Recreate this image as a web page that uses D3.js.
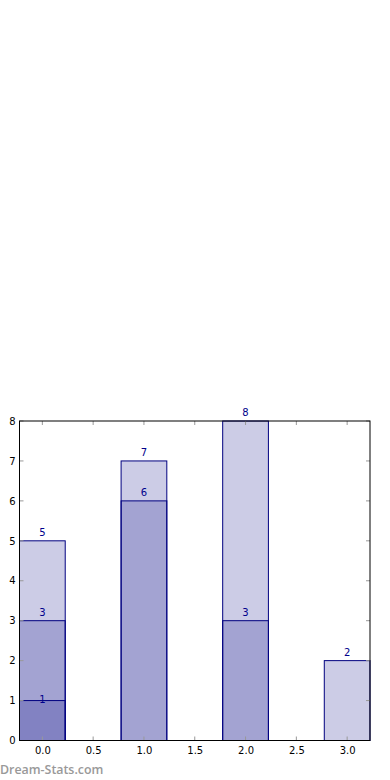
<!DOCTYPE html>
<html>
<head>
<meta charset="utf-8">
<script src="https://cdn.jsdelivr.net/npm/d3@7"></script>
<style>
  body { margin: 0; background: #fff; }
  svg { display: block; font-family: "DejaVu Sans", sans-serif; }
</style>
</head>
<body>
<div id="chart"></div>
<script>
// data: bars at each x position, drawn on top of each other (not stacked)
var positions = [0, 1, 2, 3];
var series1 = [5, 7, 8, 2];
var series2 = [3, 6, 3, 0];
var series3 = [1, 0, 0, 0];
var xTicks = [0.0, 0.5, 1.0, 1.5, 2.0, 2.5, 3.0];
var yTicks = [0, 1, 2, 3, 4, 5, 6, 7, 8];

var W = 390, H = 780;
var margin = {top: 421, right: 20, bottom: 40, left: 19.5},
    width = 370 - margin.left,
    height = 740.5 - margin.top;

var svg = d3.select("#chart").append("svg")
    .attr("width", W)
    .attr("height", H);

var g = svg.append("g")
    .attr("transform", "translate(" + margin.left + "," + margin.top + ")");

var barW = 0.45;
var x = d3.scaleLinear().domain([-0.225, 3.225]).range([0, width]);
var y = d3.scaleLinear().domain([0, 8]).range([height, 0]);

// bars, one layer per series
var layers = [series1, series2, series3];
layers.forEach(function(s) {
  var d = positions.map(function(p, i) { return {p: p, v: s[i]}; })
                   .filter(function(d) { return d.v > 0; });
  g.selectAll(null)
    .data(d)
    .enter().append("rect")
      .attr("x", function(d) { return x(d.p - barW / 2); })
      .attr("width", function(d) { return x(d.p + barW / 2) - x(d.p - barW / 2); })
      .attr("y", function(d) { return y(d.v); })
      .attr("height", function(d) { return height - y(d.v); })
      .style("fill", "navy")
      .style("fill-opacity", 0.2)
      .style("stroke", "navy")
      .style("stroke-width", 1);
});

// value labels
layers.forEach(function(s) {
  var d = positions.map(function(p, i) { return {p: p, v: s[i]}; })
                   .filter(function(d) { return d.v > 0; });
  g.selectAll(null)
    .data(d)
    .enter().append("text")
      .attr("x", function(d) { return x(d.p); })
      .attr("y", function(d) { return d.v > 1 ? y(d.v) - 5 : y(d.v) + 2; })
      .attr("text-anchor", "middle")
      .style("font-size", "10px")
      .style("fill", "#00008b")
      .text(function(d) { return d.v; });
});

// axes
var xAxis = g.append("g")
  .attr("transform", "translate(0," + height + ")")
  .call(d3.axisBottom(x).tickValues(xTicks).tickFormat(d3.format(".1f")).tickSize(0).tickPadding(6));
var yAxis = g.append("g")
  .call(d3.axisLeft(y).tickValues(yTicks).tickSize(0).tickPadding(4));
[xAxis, yAxis].forEach(function(a) {
  a.select(".domain").remove();
  a.selectAll("text").style("font-size", "10px").style("fill", "#000")
    .style("font-family", "DejaVu Sans, sans-serif");
});

// inward tick marks on all four sides
var tk = 4;
xTicks.forEach(function(t) {
  g.append("line").attr("x1", x(t)).attr("x2", x(t)).attr("y1", height).attr("y2", height - tk)
    .style("stroke", "#999");
  g.append("line").attr("x1", x(t)).attr("x2", x(t)).attr("y1", 0).attr("y2", tk)
    .style("stroke", "#999");
});
yTicks.forEach(function(t) {
  g.append("line").attr("x1", 0).attr("x2", tk).attr("y1", y(t)).attr("y2", y(t))
    .style("stroke", "#999");
  g.append("line").attr("x1", width).attr("x2", width - tk).attr("y1", y(t)).attr("y2", y(t))
    .style("stroke", "#999");
});

// frame
g.append("rect")
  .attr("x", 0).attr("y", 0)
  .attr("width", width).attr("height", height)
  .style("fill", "none")
  .style("stroke", "#000")
  .style("stroke-width", 1);

// watermark
svg.append("text")
  .attr("x", 0)
  .attr("y", 774)
  .style("font-family", "'Open Sans', sans-serif")
  .style("font-size", "12.4px")
  .style("font-weight", "600")
  .style("fill", "#999")
  .text("Dream-Stats.com");
</script>
</body>
</html>
